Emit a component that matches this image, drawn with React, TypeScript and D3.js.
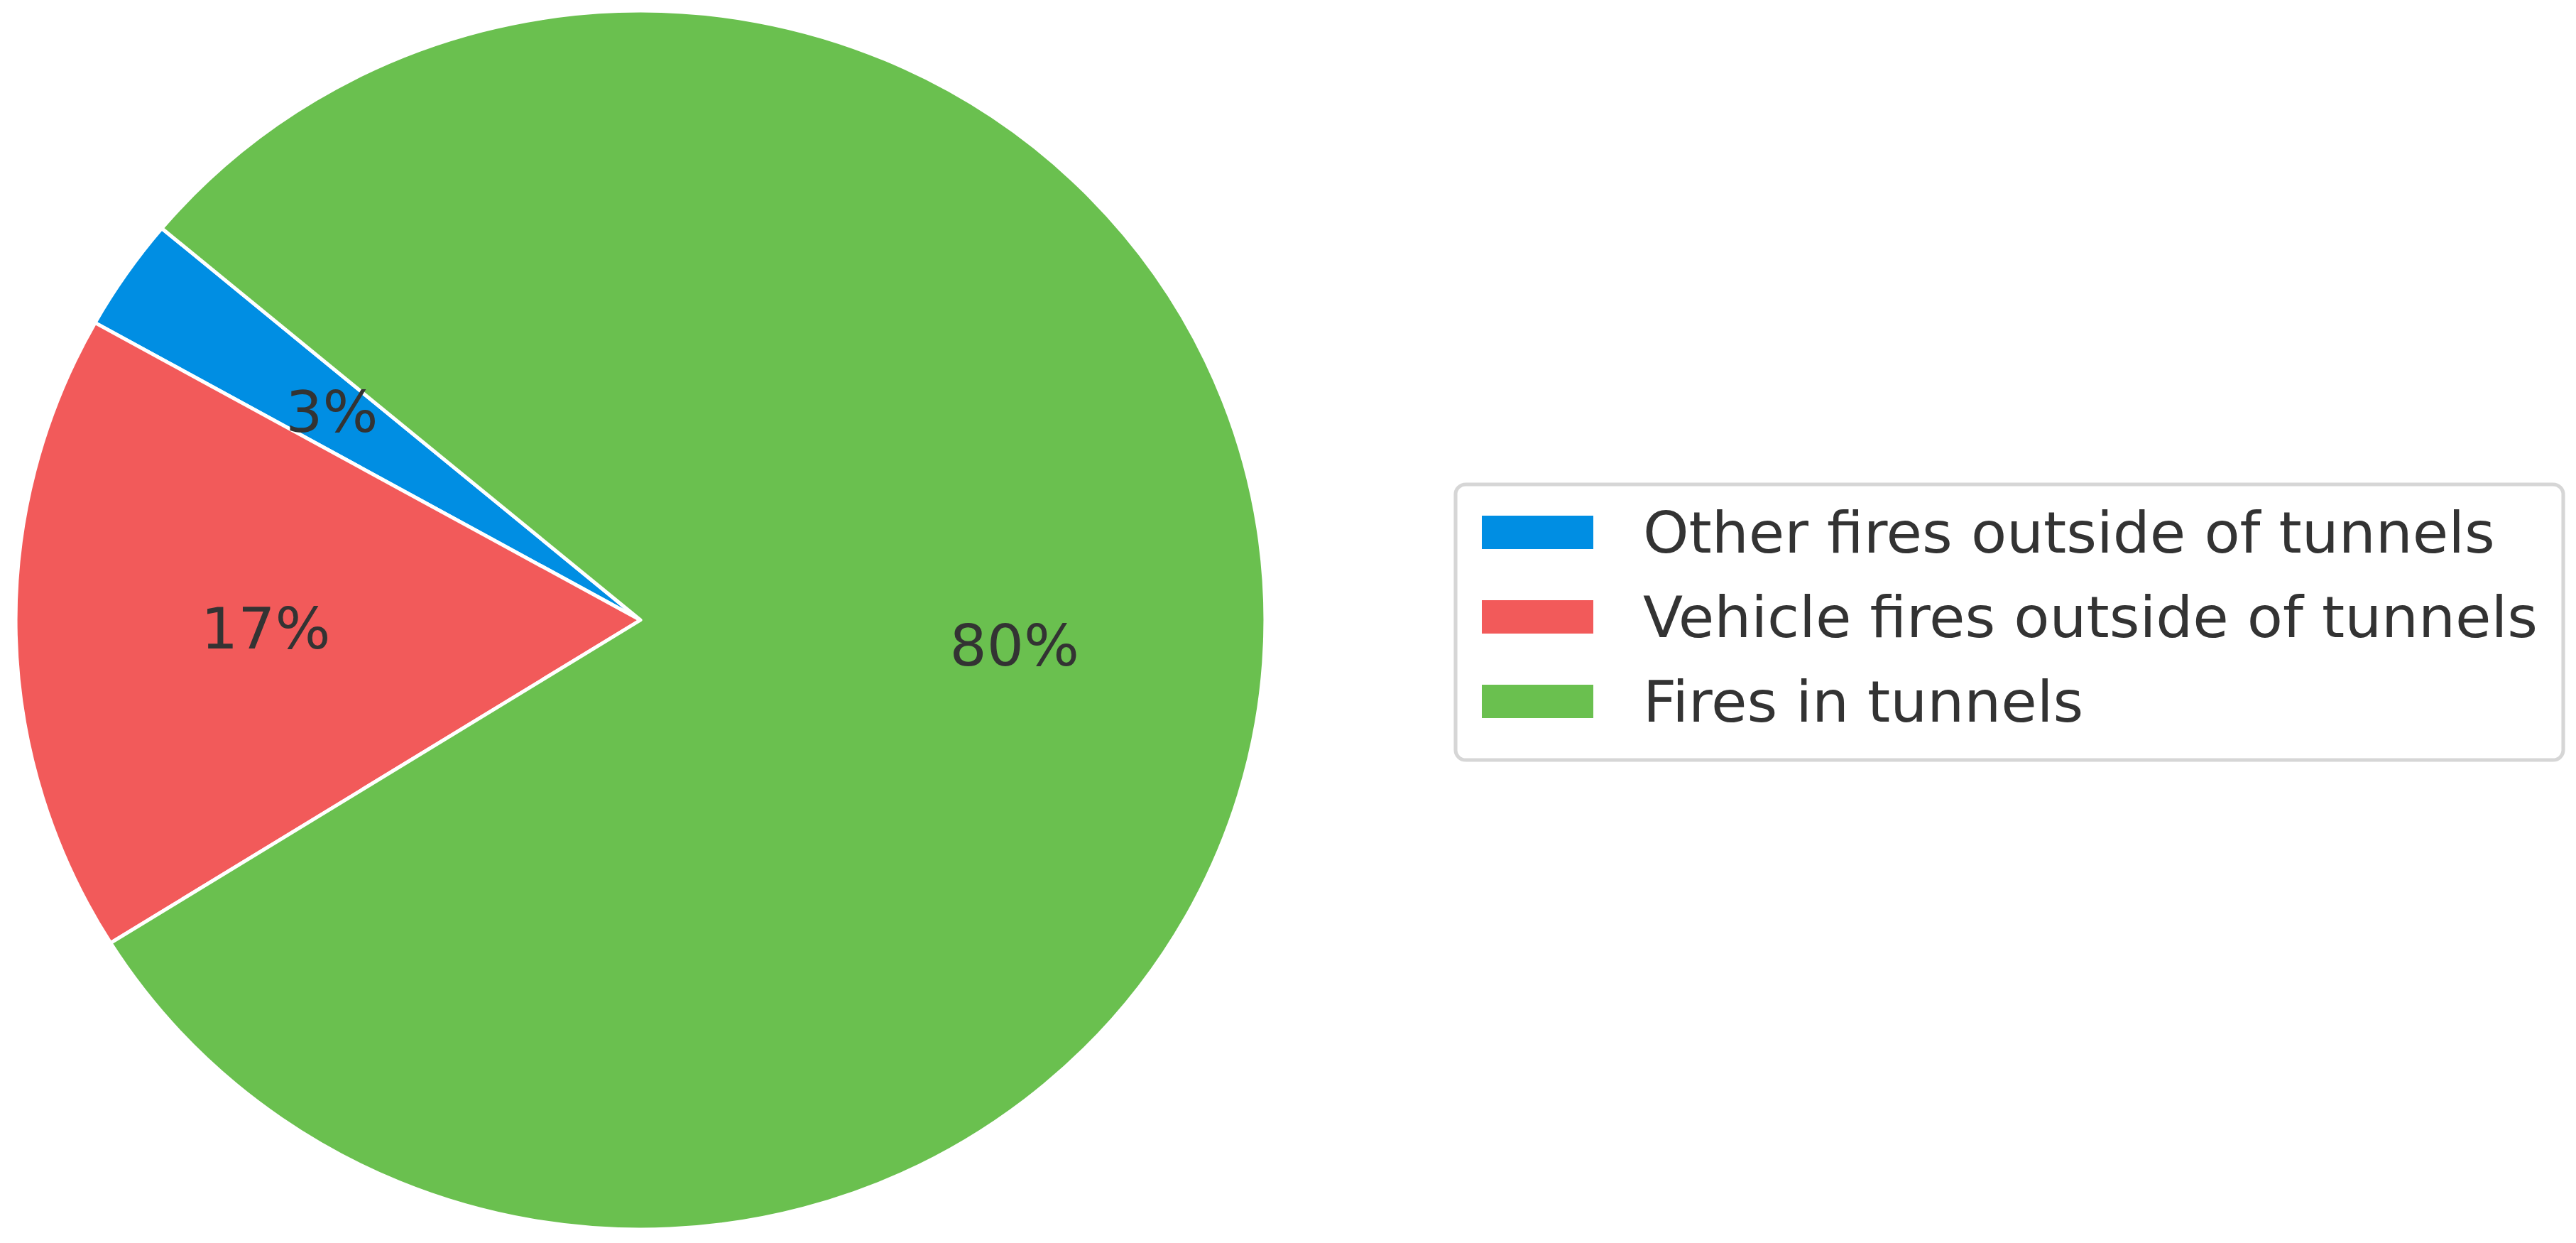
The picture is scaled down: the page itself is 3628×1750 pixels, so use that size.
import React from 'react';
import * as d3 from 'd3';

const categories = ['Other fires outside of tunnels', 'Vehicle fires outside of tunnels', 'Fires in tunnels'];
const shares = [3, 17, 80];
const colors = ['#008ee3', '#f25a5a', '#6ac04f'];

const W = 3628;
const H = 1750;
// the picture is a little wider than tall, so the pie is drawn as a circle and stretched in x
const sx = 880 / 858;
const R = 858;
const cx = 902 / sx;
const cy = 873;
const startDeg = 140; // matplotlib-style start angle, counter-clockwise

const App = () => {
  const data = categories.map((c, i) => ({ name: c, value: shares[i], color: colors[i] }));

  const start = ((90 - startDeg) * Math.PI) / 180;
  const pie = d3
    .pie<any>()
    .sort(null)
    .value((d) => d.value)
    .startAngle(start)
    .endAngle(start - 2 * Math.PI);
  const arcs = pie(data);

  const arc = d3.arc<any>().innerRadius(0).outerRadius(R);
  const labelArc = d3.arc<any>().innerRadius(R * 0.6).outerRadius(R * 0.6);

  const total = d3.sum(shares);
  const fmt = (v) => `${Math.round((v / total) * 100)}%`;

  const font = 'DejaVu Sans, sans-serif';
  const textColor = '#333333';

  // legend
  const lgX = 2050 / sx;
  const lgY = 682;
  const lgW = (3610 - 2050) / sx;
  const lgH = 388;
  const rowY = d3.scalePoint<string>().domain(categories).range([750, 988]);

  return (
    <svg
      width={W}
      height={H}
      style={{ position: 'absolute', left: 0, top: 0, background: '#fff' }}
    >
      <g transform={`scale(${sx},1)`}>
        <g transform={`translate(${cx},${cy})`}>
          {arcs.map((a, i) => (
            <path key={i} d={arc(a)} fill={a.data.color} stroke="#ffffff" strokeWidth={5} strokeLinejoin="round" />
          ))}
          {arcs.map((a, i) => {
            const [x, y] = labelArc.centroid(a);
            return (
              <text
                key={i}
                x={x}
                y={y}
                textAnchor="middle"
                dominantBaseline="central"
                fontFamily={font}
                fontSize={80}
                fill={textColor}
              >
                {fmt(a.data.value)}
              </text>
            );
          })}
        </g>

        <rect
          x={lgX}
          y={lgY}
          width={lgW}
          height={lgH}
          rx={14}
          fill="#ffffff"
          stroke="#d6d6d6"
          strokeWidth={5}
        />
        {data.map((d) => (
          <g key={d.name}>
            <rect
              x={2087 / sx}
              y={rowY(d.name) - 24}
              width={157 / sx}
              height={47}
              fill={d.color}
            />
            <text
              x={2314 / sx}
              y={rowY(d.name)}
              dominantBaseline="central"
              fontFamily={font}
              fontSize={80}
              fill={textColor}
            >
              {d.name}
            </text>
          </g>
        ))}
      </g>
    </svg>
  );
};

export default App;
